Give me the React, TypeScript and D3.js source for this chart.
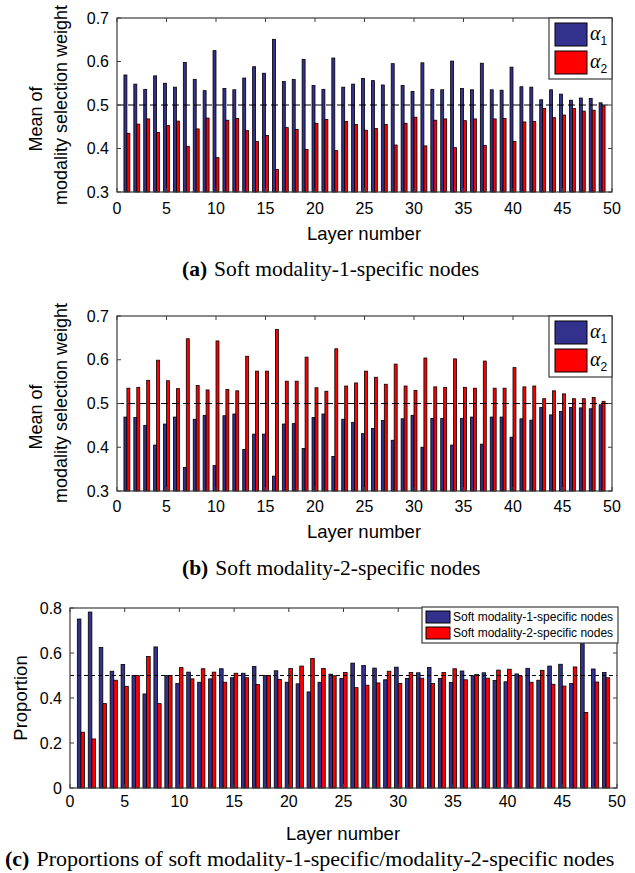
import React from "react";
import * as d3 from "d3";

// layer indices on the x axis
const layers = d3.range(1, 50);
const xTicks = [0, 5, 10, 15, 20, 25, 30, 35, 40, 45, 50];
const yTicksWeight = [0.3, 0.4, 0.5, 0.6, 0.7];
const yTicksProp = [0, 0.2, 0.4, 0.6, 0.8];

// (a) soft modality-1-specific nodes
const a1Alpha1 = [
  0.569, 0.548, 0.536, 0.567, 0.55, 0.541, 0.598, 0.559, 0.533, 0.625,
  0.538, 0.535, 0.562, 0.588, 0.573, 0.651, 0.554, 0.559, 0.605, 0.545,
  0.536, 0.608, 0.541, 0.548, 0.561, 0.556, 0.546, 0.595, 0.545, 0.531,
  0.597, 0.536, 0.535, 0.601, 0.538, 0.535, 0.596, 0.535, 0.534, 0.587,
  0.542, 0.541, 0.512, 0.535, 0.525, 0.511, 0.516, 0.515, 0.505,
];
const a1Alpha2 = [
  0.435, 0.456, 0.468, 0.437, 0.453, 0.463, 0.405, 0.445, 0.47, 0.379,
  0.465, 0.469, 0.441, 0.416, 0.43, 0.352, 0.448, 0.444, 0.398, 0.458,
  0.467, 0.395, 0.462, 0.455, 0.442, 0.446, 0.455, 0.408, 0.458, 0.472,
  0.406, 0.465, 0.468, 0.402, 0.464, 0.468, 0.407, 0.468, 0.469, 0.416,
  0.461, 0.462, 0.492, 0.471, 0.477, 0.492, 0.486, 0.488, 0.498,
];

// (b) soft modality-2-specific nodes
const b2Alpha1 = [
  0.469, 0.468, 0.45, 0.405, 0.453, 0.469, 0.354, 0.464, 0.473, 0.358,
  0.472, 0.476, 0.395, 0.43, 0.43, 0.334, 0.453, 0.454, 0.397, 0.468,
  0.476, 0.379, 0.464, 0.457, 0.431, 0.443, 0.461, 0.416, 0.465, 0.473,
  0.4, 0.466, 0.466, 0.405, 0.466, 0.469, 0.407, 0.469, 0.469, 0.423,
  0.465, 0.462, 0.491, 0.474, 0.482, 0.491, 0.49, 0.488, 0.497,
];
const b2Alpha2 = [
  0.535, 0.537, 0.553, 0.599, 0.552, 0.534, 0.648, 0.541, 0.531, 0.643,
  0.532, 0.529, 0.608, 0.574, 0.574, 0.669, 0.551, 0.551, 0.606, 0.536,
  0.528, 0.625, 0.54, 0.547, 0.574, 0.56, 0.544, 0.59, 0.54, 0.53,
  0.604, 0.538, 0.537, 0.602, 0.537, 0.535, 0.597, 0.535, 0.535, 0.582,
  0.538, 0.54, 0.511, 0.529, 0.522, 0.511, 0.511, 0.514, 0.505,
];

// (c) proportions
const propMod1 = [
  0.751, 0.782, 0.625, 0.519, 0.549, 0.5, 0.418, 0.627, 0.5, 0.465,
  0.515, 0.47, 0.485, 0.53, 0.49, 0.51, 0.54, 0.5, 0.521, 0.47,
  0.463, 0.427, 0.47, 0.506, 0.487, 0.555, 0.545, 0.533, 0.481, 0.537,
  0.487, 0.512, 0.536, 0.487, 0.469, 0.52, 0.499, 0.512, 0.478, 0.472,
  0.507, 0.532, 0.479, 0.542, 0.55, 0.464, 0.664, 0.529, 0.513,
];
const propMod2 = [
  0.248, 0.218, 0.375, 0.479, 0.452, 0.5, 0.584, 0.375, 0.5, 0.535,
  0.485, 0.53, 0.515, 0.47, 0.51, 0.49, 0.46, 0.5, 0.482, 0.531,
  0.542, 0.576, 0.531, 0.499, 0.513, 0.446, 0.457, 0.467, 0.519, 0.464,
  0.513, 0.488, 0.464, 0.513, 0.53, 0.481, 0.505, 0.488, 0.524, 0.528,
  0.498, 0.47, 0.523, 0.461, 0.453, 0.538, 0.336, 0.471, 0.49,
];

const SANS = "'Liberation Sans', Arial, Helvetica, sans-serif";
const SERIF = "'Liberation Serif', 'Times New Roman', serif";
const BLUE = "#33318e";
const RED = "#ff0000";
const AXIS = "#3c3c3c";

function BarPanel(props: any) {
  const { left, right, top, bottom, yDomain, yTicks, blue, red, barW, fmt, tickGap, dash } = props;
  const x = d3.scaleLinear().domain([0, 50]).range([left, right]);
  const y = d3.scaleLinear().domain(yDomain).range([bottom, top]);
  const bw = x(barW) - x(0);
  const base = y(yDomain[0]);
  const tl = 4;
  return (
    <g>
      {layers.map((l, i) => (
        <g key={l}>
          <rect x={x(l) - bw} y={y(blue[i])} width={bw} height={base - y(blue[i])}
            fill={BLUE} stroke="#000" strokeWidth={0.8} />
          <rect x={x(l)} y={y(red[i])} width={bw} height={base - y(red[i])}
            fill={RED} stroke="#000" strokeWidth={0.8} />
        </g>
      ))}
      <line x1={left} x2={right} y1={y(0.5)} y2={y(0.5)} stroke="#000" strokeWidth={1} strokeDasharray={dash} />
      <rect x={left} y={top} width={right - left} height={bottom - top} fill="none" stroke={AXIS} strokeWidth={1.2} />
      {xTicks.map((t) => (
        <g key={"x" + t}>
          <line x1={x(t)} x2={x(t)} y1={bottom} y2={bottom - tl} stroke={AXIS} />
          <line x1={x(t)} x2={x(t)} y1={top} y2={top + tl} stroke={AXIS} />
          <text x={x(t)} y={bottom + tickGap} dy="0.35em" textAnchor="middle" fontSize={16} fontFamily={SANS}>{t}</text>
        </g>
      ))}
      {yTicks.map((t: number) => (
        <g key={"y" + t}>
          <line x1={left} x2={left + tl} y1={y(t)} y2={y(t)} stroke={AXIS} />
          <line x1={right} x2={right - tl} y1={y(t)} y2={y(t)} stroke={AXIS} />
          <text x={left - 8} y={y(t)} dy="0.35em" textAnchor="end" fontSize={16} fontFamily={SANS}>{fmt(t)}</text>
        </g>
      ))}
    </g>
  );
}

function AlphaLegend({ x0, y0 }: any) {
  const items = [
    { c: BLUE, s: "1" },
    { c: RED, s: "2" },
  ];
  return (
    <g>
      <rect x={x0} y={y0} width={63} height={61} fill="#fff" stroke={AXIS} strokeWidth={1.2} />
      {items.map((it, i) => (
        <g key={it.s}>
          <rect x={x0 + 6} y={y0 + 5 + i * 28} width={32} height={23} fill={it.c} stroke="#000" strokeWidth={1} />
          <text x={x0 + 41} y={y0 + 22 + i * 28} fontSize={20} fontFamily={SERIF} fontStyle="italic">
            α<tspan fontSize={12} fontStyle="normal" fontFamily={SANS} dy={5}>{it.s}</tspan>
          </text>
        </g>
      ))}
    </g>
  );
}

function WeightLabel({ cy }: any) {
  return (
    <g fontFamily={SANS} fontSize={18} textAnchor="middle">
      <text transform={`translate(36,${cy + 14}) rotate(-90)`} dy="0.35em">Mean of</text>
      <text transform={`translate(61,${cy}) rotate(-90)`} dy="0.35em">modality selection weight</text>
    </g>
  );
}

function Caption({ x, y, tag, text, size }: any) {
  return (
    <text x={x} y={y} dy="0.35em" fontFamily={SERIF} fontSize={size || 21.5}>
      <tspan fontWeight="bold">{tag}</tspan>
      <tspan dx={7}>{text}</tspan>
    </text>
  );
}

export default function App() {
  const f1 = d3.format(".1f");
  const fProp = (t: number) => (t === 0 ? "0" : f1(t));
  return (
    <svg width={635} height={873} style={{ position: "absolute", left: 0, top: 0, background: "#fff" }}>
      <rect width={635} height={873} fill="#fff" />

      {/* panel (a) */}
      <BarPanel left={117} right={612} top={18} bottom={192} yDomain={[0.3, 0.7]} yTicks={yTicksWeight}
        blue={a1Alpha1} red={a1Alpha2} barW={0.3} fmt={f1} tickGap={16} dash="7,4" />
      <AlphaLegend x0={549} y0={18} />
      <WeightLabel cy={105} />
      <text x={364} y={234} dy="0.35em" textAnchor="middle" fontSize={18.5} fontFamily={SANS}>Layer number</text>
      <Caption x={182} y={268} tag="(a)" text="Soft modality-1-specific nodes" />

      {/* panel (b) */}
      <BarPanel left={117} right={612} top={316} bottom={491} yDomain={[0.3, 0.7]} yTicks={yTicksWeight}
        blue={b2Alpha1} red={b2Alpha2} barW={0.3} fmt={f1} tickGap={15} dash="7,4" />
      <AlphaLegend x0={549} y0={316} />
      <WeightLabel cy={403} />
      <text x={364} y={532} dy="0.35em" textAnchor="middle" fontSize={18.5} fontFamily={SANS}>Layer number</text>
      <Caption x={182} y={567} tag="(b)" text="Soft modality-2-specific nodes" />

      {/* panel (c) */}
      <BarPanel left={70} right={617} top={608} bottom={788} yDomain={[0, 0.8]} yTicks={yTicksProp}
        blue={propMod1} red={propMod2} barW={0.33} fmt={fProp} tickGap={13} dash="4,3" />
      <g>
        <rect x={422} y={607} width={196} height={36} fill="#fff" stroke={AXIS} strokeWidth={1.2} />
        <rect x={426} y={611} width={24} height={12} fill={BLUE} stroke="#000" />
        <rect x={426} y={627} width={24} height={12} fill={RED} stroke="#000" />
        <text x={453} y={617} dy="0.35em" fontSize={12} fontFamily={SANS}>Soft modality-1-specific nodes</text>
        <text x={453} y={633} dy="0.35em" fontSize={12} fontFamily={SANS}>Soft modality-2-specific nodes</text>
      </g>
      <text transform="translate(21,698) rotate(-90)" dy="0.35em" textAnchor="middle" fontSize={18.5} fontFamily={SANS}>Proportion</text>
      <text x={343} y={834} dy="0.35em" textAnchor="middle" fontSize={18.5} fontFamily={SANS}>Layer number</text>
      <Caption x={5} y={858} size={22} tag="(c)" text="Proportions of soft modality-1-specific/modality-2-specific nodes" />
    </svg>
  );
}
